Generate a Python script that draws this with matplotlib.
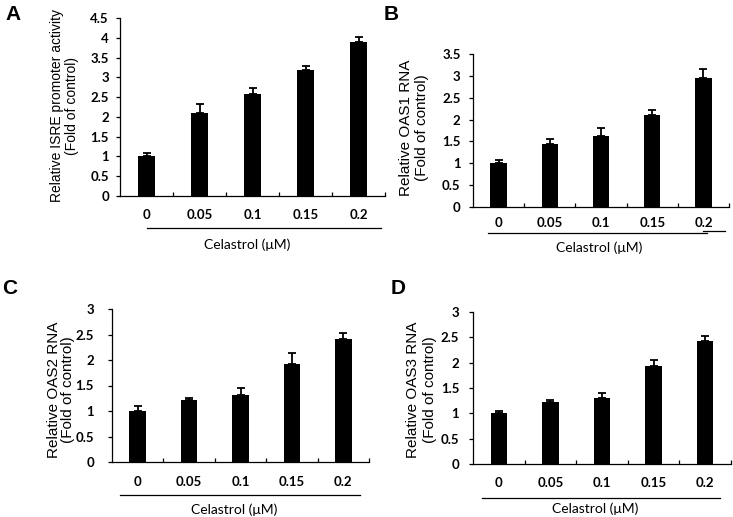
import matplotlib
matplotlib.use("Agg")
import matplotlib.pyplot as plt
import matplotlib.ticker as mticker
from matplotlib.lines import Line2D

# ---------------- data ----------------
categories = ["0", "0.05", "0.1", "0.15", "0.2"]
xlabel_text = "Celastrol (\u03bcM)"

isre_mean = [1.0, 2.09, 2.58, 3.18, 3.90]
isre_err = [0.08, 0.23, 0.15, 0.11, 0.11]

oas1_mean = [1.0, 1.43, 1.63, 2.11, 2.96]
oas1_err = [0.07, 0.13, 0.17, 0.10, 0.19]

oas2_mean = [1.0, 1.21, 1.31, 1.93, 2.41]
oas2_err = [0.09, 0.05, 0.14, 0.21, 0.12]

oas3_mean = [1.0, 1.22, 1.31, 1.93, 2.42]
oas3_err = [0.05, 0.05, 0.09, 0.13, 0.10]

ylabels = ["Relative ISRE promoter activity\n(Fold of control)",
           "Relative OAS1 RNA\n(Fold of control)",
           "Relative OAS2 RNA\n(Fold of control)",
           "Relative OAS3 RNA\n(Fold of control)"]
panel_letters = ["A", "B", "C", "D"]
ymaxes = [4.5, 3.5, 3.0, 3.0]

# ---------------- layout (pixels) ----------------
W, H = 733, 517
fig = plt.figure(figsize=(W / 100, H / 100), dpi=100)

def fx(px):
    return px / W

def fy(py):
    return 1 - py / H

# left, right, top, bottom of axes in pixel coords
rects = [(120, 385, 18, 196), (473, 729, 54, 207), (112, 369, 309, 462), (473, 731, 312, 464)]
ylab_pos = [(64.5, 106), (414, 128), (61, 390), (421.5, 390)]
ylab_size = [10, 11, 11, 11]
ylab_spacing = [1.08, 1.15, 0.95, 1.2]
ytick_pad = [5, 6, 10, 7]
letter_pos = [(13, 15), (391, 14), (10, 288), (398, 288)]
tick_off = [19, 16, 20, 19]
line_off = [32, 26, 33, 34]
line_x = [(147, 381), (488, 707), (120, 360), (482, 720)]
cel_off = [49, 41, 48, 45]
cel_x = [247, 599, 234.5, 595.5]

means = [isre_mean, oas1_mean, oas2_mean, oas3_mean]
errs = [isre_err, oas1_err, oas2_err, oas3_err]

for i in range(4):
    l, r, t, b = rects[i]
    ax = fig.add_axes([fx(l), fy(b), (r - l) / W, (b - t) / H])
    x = list(range(len(categories)))
    ax.bar(x, means[i], width=0.32, color="black", zorder=2)
    ax.errorbar(x, means[i], yerr=[[0] * len(x), errs[i]], fmt="none",
                ecolor="black", elinewidth=1.3, capsize=3, capthick=1.3, zorder=3)
    ax.set_xlim(-0.5, len(x) - 0.5)
    ax.set_ylim(0, ymaxes[i])
    ax.spines["top"].set_visible(False)
    ax.spines["right"].set_visible(False)
    for s in ("left", "bottom"):
        ax.spines[s].set_linewidth(0.9)
    ax.yaxis.set_major_locator(mticker.MultipleLocator(0.5))
    ax.yaxis.set_major_formatter(mticker.FuncFormatter(lambda v, p: "%g" % v))
    ax.tick_params(axis="y", direction="out", length=3, width=0.9,
                   pad=ytick_pad[i], labelsize=9.5)
    for lab in ax.get_yticklabels():
        lab.set_fontfamily("Lato")
        lab.set_fontweight("bold")
    ax.set_xticks([])
    ax.set_xticks([k + 0.5 for k in range(len(x))], minor=True)
    ax.tick_params(axis="x", which="minor", direction="in", length=3, width=0.9)
    # category labels
    for k, c in enumerate(categories):
        ax.annotate(c, xy=(k, 0), xycoords=("data", "axes fraction"),
                    xytext=(0, -tick_off[i] * 0.72), textcoords="offset points",
                    ha="center", va="center", fontsize=9.5, family="Lato",
                    fontweight="bold")
    # underline and x title
    ly = fy(b + line_off[i])
    fig.add_artist(Line2D([fx(line_x[i][0]), fx(line_x[i][1])], [ly, ly],
                          color="black", lw=0.9))
    fig.text(fx(cel_x[i]), fy(b + cel_off[i]), xlabel_text, ha="center",
             va="center", fontsize=10, family="Lato")
    # y label
    fig.text(fx(ylab_pos[i][0]), fy(ylab_pos[i][1]), ylabels[i], rotation=90,
             ha="center", va="center", fontsize=ylab_size[i],
             family="Liberation Sans", multialignment="center",
             linespacing=ylab_spacing[i])
    # panel letter
    fig.text(fx(letter_pos[i][0]), fy(letter_pos[i][1]), panel_letters[i],
             ha="center", va="center", fontsize=15, fontweight="bold",
             family="Liberation Sans")

# small step segment at end of B underline
yb = fy(rects[1][3] + line_off[1] - 2)
fig.add_artist(Line2D([fx(703), fx(725)], [yb, yb], color="black", lw=0.9))

fig.savefig("out.png", dpi=100)
